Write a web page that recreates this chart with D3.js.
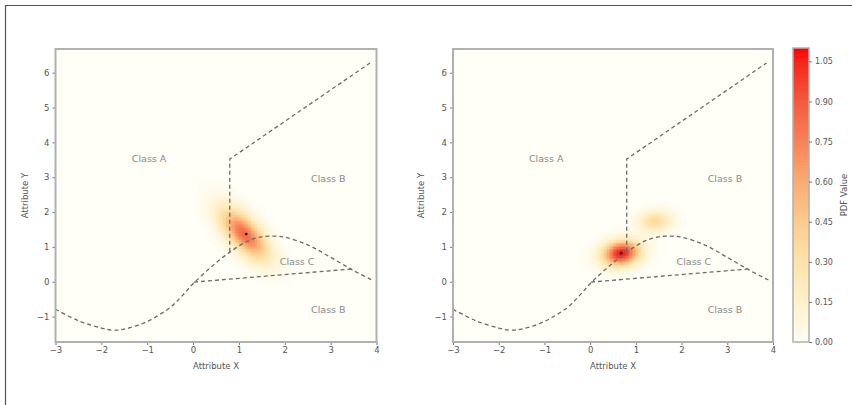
<!DOCTYPE html>
<html>
<head>
<meta charset="utf-8">
<script src="https://cdn.jsdelivr.net/npm/d3@7"></script>
<style>
  html, body { margin: 0; padding: 0; background: #fff; }
  svg { display: block; font-family: "DejaVu Sans", sans-serif; }
</style>
</head>
<body>
<svg id="chart" width="852" height="405"></svg>
<script>
// ---------- data ----------
const xDomain = [-3, 4];
const yDomain = [-1.73, 6.68];
const xTicks = [-3, -2, -1, 0, 1, 2, 3, 4];
const yTicks = [-1, 0, 1, 2, 3, 4, 5, 6];
const cbTicks = [0.00, 0.15, 0.30, 0.45, 0.60, 0.75, 0.90, 1.05];
const cbDomain = [0, 1.10];
const cbStops  = [0.00, 0.06, 0.15, 0.30, 0.45, 0.60, 0.75, 0.90, 1.05, 1.10];
const cbColors = ["#fffef7", "#fff8e0", "#fff1cc", "#fee3aa", "#fdcb8d", "#fbab72", "#f88257", "#f45a3d", "#f7241a", "#ff0000"];

// wavy decision boundary
const curveX = [-3.0, -2.5, -2.0, -1.75, -1.5, -1.0, -0.5, -0.25, 0.0, 0.4, 0.8, 1.2, 1.5, 1.75, 2.0, 2.5, 3.0, 3.5, 3.9];
const curveY = [-0.79, -1.12, -1.33, -1.39, -1.36, -1.14, -0.74, -0.42, -0.06, 0.43, 0.85, 1.17, 1.29, 1.31, 1.28, 1.06, 0.70, 0.32, 0.05];
// lower Class C boundary
const lineCX = [0.02, 3.50];
const lineCY = [-0.01, 0.37];
// vertical + diagonal boundary
const boundX = [0.80, 0.80, 3.86];
const boundY = [0.86, 3.52, 6.28];

const classLabels = ["Class A", "Class B", "Class C", "Class B"];
const classLabelX = [-0.96, 2.95, 2.27, 2.95];
const classLabelY = [3.55, 2.95, 0.57, -0.79];

// density components (mean x, mean y, sigma x, sigma y, correlation, peak)
const leftMeanX = [1.12];
const leftMeanY = [1.38];
const leftSigX  = [0.35];
const leftSigY  = [0.49];
const leftRho   = [-0.66];
const leftPeak  = [0.84];
const leftPoint = [1.16, 1.37];

const rightMeanX = [0.68, 1.42];
const rightMeanY = [0.83, 1.75];
const rightSigX  = [0.27, 0.24];
const rightSigY  = [0.24, 0.20];
const rightRho   = [0.15, 0.1];
const rightPeak  = [1.08, 0.36];
const rightPoint = [0.68, 0.82];

// ---------- drawing ----------
const svg = d3.select("#chart");
const color = d3.scaleLinear().domain(cbStops).range(cbColors).interpolate(d3.interpolateRgb).clamp(true);

// outer frame (top + left edges visible)
svg.append("line").attr("x1", 5).attr("y1", 5.5).attr("x2", 852).attr("y2", 5.5).attr("stroke", "#555").attr("stroke-width", 1.2);
svg.append("line").attr("x1", 5.5).attr("y1", 5).attr("x2", 5.5).attr("y2", 405).attr("stroke", "#555").attr("stroke-width", 1.2);

const plotTop = 49, plotBottom = 342;
const panels = [
  { x0: 55.5, x1: 376.5, mx: leftMeanX, my: leftMeanY, sx: leftSigX, sy: leftSigY, r: leftRho, p: leftPeak, pt: leftPoint, ylabX: 28 },
  { x0: 453, x1: 773, mx: rightMeanX, my: rightMeanY, sx: rightSigX, sy: rightSigY, r: rightRho, p: rightPeak, pt: rightPoint, ylabX: 424 }
];

function density(P, x, y) {
  let v = 0;
  for (let i = 0; i < P.mx.length; i++) {
    const dx = (x - P.mx[i]) / P.sx[i], dy = (y - P.my[i]) / P.sy[i], r = P.r[i];
    const q = (dx * dx - 2 * r * dx * dy + dy * dy) / (1 - r * r);
    v += P.p[i] * Math.exp(-0.5 * q);
  }
  return v;
}

panels.forEach((P, idx) => {
  const xs = d3.scaleLinear().domain(xDomain).range([P.x0, P.x1]);
  const ys = d3.scaleLinear().domain(yDomain).range([plotBottom, plotTop]);
  const g = svg.append("g");
  const clipId = "clip" + idx;
  g.append("clipPath").attr("id", clipId).append("rect")
    .attr("x", P.x0).attr("y", plotTop).attr("width", P.x1 - P.x0).attr("height", plotBottom - plotTop);

  g.append("rect").attr("x", P.x0).attr("y", plotTop).attr("width", P.x1 - P.x0).attr("height", plotBottom - plotTop)
    .attr("fill", color(0));

  // density grid
  const nx = 220, ny = 200;
  const stepX = (xDomain[1] - xDomain[0]) / nx, stepY = (yDomain[1] - yDomain[0]) / ny;
  const cells = [];
  for (let i = 0; i < nx; i++) {
    for (let j = 0; j < ny; j++) {
      const cx = xDomain[0] + (i + 0.5) * stepX, cy = yDomain[0] + (j + 0.5) * stepY;
      const v = density(P, cx, cy);
      if (v > 0.004) cells.push({ x: cx, y: cy, v });
    }
  }
  g.append("g").attr("clip-path", `url(#${clipId})`).attr("shape-rendering", "crispEdges")
    .selectAll("rect").data(cells).join("rect")
    .attr("x", d => xs(d.x - stepX / 2))
    .attr("y", d => ys(d.y + stepY / 2))
    .attr("width", xs(stepX) - xs(0) + 0.6)
    .attr("height", ys(0) - ys(stepY) + 0.6)
    .attr("fill", d => color(d.v));

  const lg = g.append("g").attr("clip-path", `url(#${clipId})`)
    .attr("fill", "none").attr("stroke", "#6b6b6b").attr("stroke-width", 1.3).attr("stroke-dasharray", "4,3");
  const line = d3.line().x(d => xs(d[0])).y(d => ys(d[1]));
  lg.append("path").attr("d", line.curve(d3.curveCatmullRom)(curveX.map((x, i) => [x, curveY[i]])));
  lg.append("path").attr("d", d3.line().x(d => xs(d[0])).y(d => ys(d[1]))(lineCX.map((x, i) => [x, lineCY[i]])));
  lg.append("path").attr("d", d3.line().x(d => xs(d[0])).y(d => ys(d[1]))(boundX.map((x, i) => [x, boundY[i]])));

  // class labels
  g.selectAll("text.cls").data(classLabels).join("text").attr("class", "cls")
    .attr("x", (d, i) => xs(classLabelX[i])).attr("y", (d, i) => ys(classLabelY[i]))
    .attr("text-anchor", "middle").attr("dominant-baseline", "central")
    .attr("font-size", 9.5).attr("fill", "#8a8a8a").text(d => d);

  // point
  g.append("circle").attr("cx", xs(P.pt[0])).attr("cy", ys(P.pt[1])).attr("r", 1.3).attr("fill", "#111");

  // axes
  const xAxis = g.append("g").attr("transform", `translate(0,${plotBottom})`)
    .call(d3.axisBottom(xs).tickValues(xTicks).tickSize(3).tickPadding(2).tickFormat(d => d < 0 ? "\u2212" + Math.abs(d) : d));
  const yAxis = g.append("g").attr("transform", `translate(${P.x0},0)`)
    .call(d3.axisLeft(ys).tickValues(yTicks).tickSize(3).tickPadding(3).tickFormat(d => d < 0 ? "\u2212" + Math.abs(d) : d));
  [xAxis, yAxis].forEach(a => {
    a.select(".domain").remove();
    a.selectAll("line").attr("stroke", "#777");
    a.selectAll("text").attr("font-size", 8.5).attr("fill", "#555").attr("font-family", "DejaVu Sans, sans-serif");
  });
  g.append("rect").attr("x", P.x0).attr("y", plotTop).attr("width", P.x1 - P.x0).attr("height", plotBottom - plotTop)
    .attr("fill", "none").attr("stroke", "#b0b0b0").attr("stroke-width", 2);

  g.append("text").attr("x", (P.x0 + P.x1) / 2).attr("y", 369).attr("text-anchor", "middle")
    .attr("font-size", 8.5).attr("fill", "#555").text("Attribute X");
  g.append("text").attr("transform", `translate(${P.ylabX},${(plotTop + plotBottom) / 2}) rotate(-90)`)
    .attr("text-anchor", "middle").attr("font-size", 8.5).attr("fill", "#555").text("Attribute Y");
});

// colorbar
const cbX = 793, cbW = 16;
const cbY = d3.scaleLinear().domain(cbDomain).range([plotBottom, 48]);
const cbG = svg.append("g");
const cbN = d3.range(0, 221).map(i => cbDomain[0] + (cbDomain[1] - cbDomain[0]) * i / 220);
cbG.append("g").attr("shape-rendering", "crispEdges").selectAll("rect").data(cbN.slice(0, -1)).join("rect")
  .attr("x", cbX).attr("width", cbW)
  .attr("y", (d, i) => cbY(cbN[i + 1]))
  .attr("height", (d, i) => cbY(d) - cbY(cbN[i + 1]) + 0.6)
  .attr("fill", d => color(d));
cbG.append("rect").attr("x", cbX).attr("y", 48).attr("width", cbW).attr("height", plotBottom - 48)
  .attr("fill", "none").attr("stroke", "#b0b0b0").attr("stroke-width", 1.5);
const cbAxis = cbG.append("g").attr("transform", `translate(${cbX + cbW},0)`)
  .call(d3.axisRight(cbY).tickValues(cbTicks).tickSize(3).tickPadding(3).tickFormat(d3.format(".2f")));
cbAxis.select(".domain").remove();
cbAxis.selectAll("line").attr("stroke", "#777");
cbAxis.selectAll("text").attr("font-size", 8).attr("fill", "#555").attr("font-family", "DejaVu Sans, sans-serif");
cbG.append("text").attr("transform", `translate(847,${(48 + plotBottom) / 2}) rotate(-90)`)
  .attr("text-anchor", "middle").attr("font-size", 8.5).attr("fill", "#555").text("PDF Value");
</script>
</body>
</html>
